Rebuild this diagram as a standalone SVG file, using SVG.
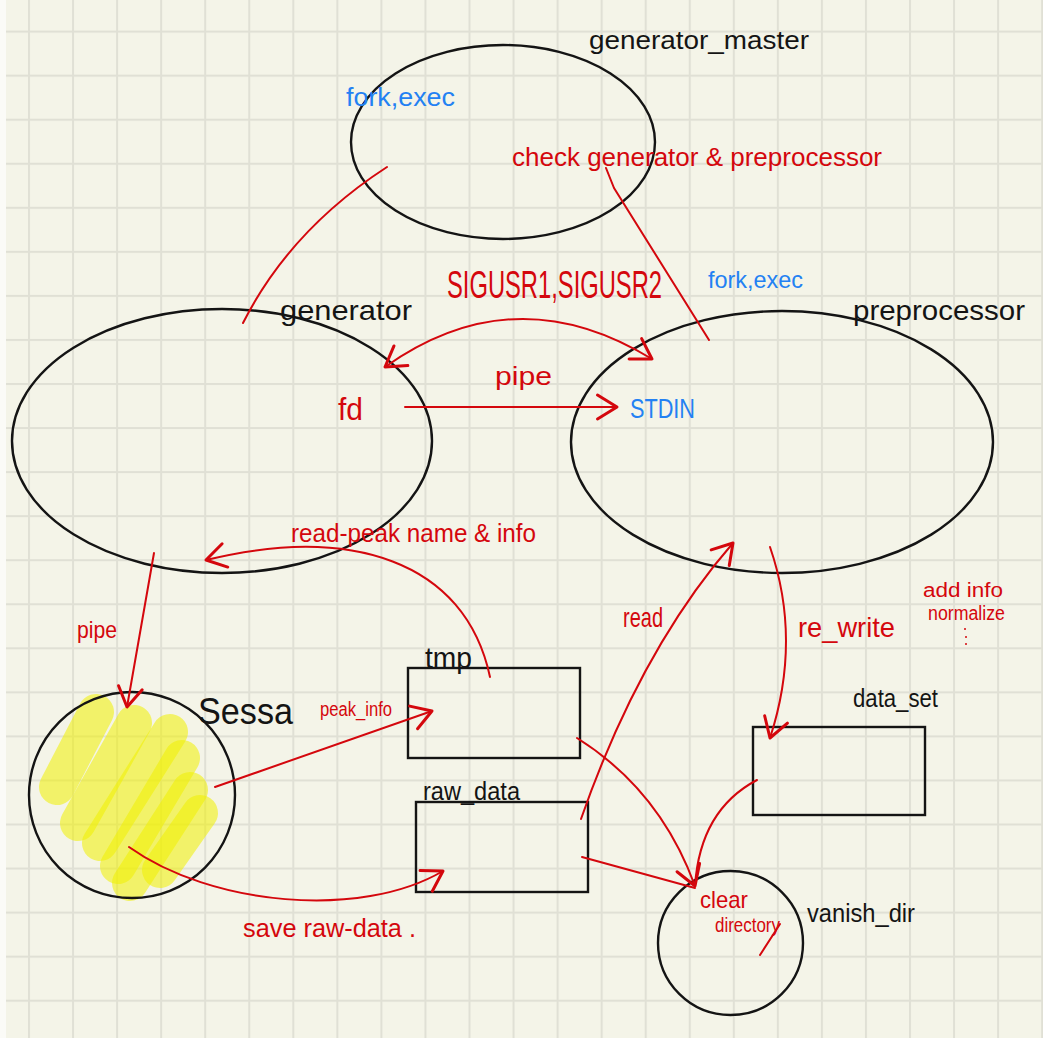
<svg xmlns="http://www.w3.org/2000/svg" width="1043" height="1038" viewBox="0 0 1043 1038">
  <style>
    .shape { fill: none; stroke: #141414; stroke-width: 2.4; }
    .wire { fill: none; stroke: #d4070d; stroke-width: 2; stroke-linecap: round; stroke-linejoin: round; }
    .arrow { marker-end: url(#head); }
    .t { font-family: "Liberation Sans", "DejaVu Sans", sans-serif; }
    .bk { fill: #141414; }
    .rd { fill: #d4070d; }
    .bl { fill: #2381f3; }
    .hl { fill: none; stroke: #f0f000; stroke-opacity: 0.55; stroke-width: 36; stroke-linecap: round; }
  </style>
  <defs>
    <pattern id="grid" patternUnits="userSpaceOnUse" x="28" y="30.6" width="44.05" height="44.05">
      <rect x="0" y="0" width="44.05" height="44.05" fill="#f4f4e8"/>
      <rect x="0" y="0" width="2" height="44.05" fill="#e0e0d5"/>
      <rect x="0" y="0" width="44.05" height="2" fill="#e0e0d5"/>
    </pattern>
    <marker id="head" markerUnits="userSpaceOnUse" markerWidth="30" markerHeight="30" viewBox="-16 -10 20 20" refX="0" refY="0" orient="auto-start-reverse">
      <path d="M-13,-8 L0,0 L-13,8" fill="none" stroke="#d4070d" stroke-width="2" stroke-linecap="round" stroke-linejoin="round"/>
    </marker>
  </defs>

  <!-- paper -->
  <rect x="0" y="0" width="1043" height="1038" fill="url(#grid)"/>
  <rect x="0" y="0" width="6" height="1038" fill="#fbfbf7"/>

  <!-- generator_master -->
  <g id="generator_master">
    <ellipse class="shape" cx="503" cy="142" rx="152" ry="97"/>
    <text class="t bk" x="589" y="49" font-size="26" textLength="220" lengthAdjust="spacingAndGlyphs">generator_master</text>
    <text class="t bl" x="346" y="106" font-size="26" textLength="109" lengthAdjust="spacingAndGlyphs">fork,exec</text>
    <text class="t rd" x="512" y="166" font-size="26" textLength="370" lengthAdjust="spacingAndGlyphs">check  generator &amp;  preprocessor</text>
  </g>

  <!-- generator -->
  <g id="generator">
    <ellipse class="shape" cx="222" cy="441" rx="210" ry="132"/>
    <text class="t bk" x="280" y="320" font-size="28" textLength="132" lengthAdjust="spacingAndGlyphs">generator</text>
    <text class="t rd" x="338" y="420" font-size="32" textLength="25" lengthAdjust="spacingAndGlyphs">fd</text>
  </g>

  <!-- preprocessor -->
  <g id="preprocessor">
    <ellipse class="shape" cx="782" cy="442" rx="211" ry="131"/>
    <text class="t bk" x="853" y="320" font-size="28" textLength="172" lengthAdjust="spacingAndGlyphs">preprocessor</text>
    <text class="t bl" x="708" y="288" font-size="24" textLength="95" lengthAdjust="spacingAndGlyphs">fork,exec</text>
    <text class="t bl" x="630" y="418" font-size="27" textLength="65" lengthAdjust="spacingAndGlyphs">STDIN</text>
  </g>

  <!-- sessa -->
  <g id="sessa">
    <g id="sessa-highlight">
      <line class="hl" x1="96" y1="712" x2="57" y2="787"/>
      <line class="hl" x1="134" y1="723" x2="78" y2="823"/>
      <line class="hl" x1="170" y1="732" x2="100" y2="843"/>
      <line class="hl" x1="182" y1="758" x2="118" y2="866"/>
      <line class="hl" x1="190" y1="790" x2="130" y2="883"/>
      <line class="hl" x1="200" y1="813" x2="160" y2="870"/>
    </g>
    <ellipse class="shape" cx="132" cy="795" rx="103" ry="103"/>
    <text class="t bk" x="198" y="724" font-size="36" textLength="95" lengthAdjust="spacingAndGlyphs">Sessa</text>
  </g>

  <!-- tmp -->
  <g id="tmp">
    <rect class="shape" x="408" y="668" width="172" height="90"/>
    <text class="t bk" x="425" y="668" font-size="30" textLength="47" lengthAdjust="spacingAndGlyphs">tmp</text>
  </g>

  <!-- raw_data -->
  <g id="raw_data">
    <rect class="shape" x="416" y="802" width="172" height="90"/>
    <text class="t bk" x="423" y="800" font-size="26" textLength="97" lengthAdjust="spacingAndGlyphs">raw_data</text>
  </g>

  <!-- data_set -->
  <g id="data_set">
    <rect class="shape" x="753" y="727" width="172" height="88"/>
    <text class="t bk" x="853" y="707" font-size="26" textLength="85" lengthAdjust="spacingAndGlyphs">data_set</text>
  </g>

  <!-- vanish_dir -->
  <g id="vanish_dir">
    <ellipse class="shape" cx="730.5" cy="943" rx="72.5" ry="72"/>
    <text class="t bk" x="807" y="922" font-size="26" textLength="108" lengthAdjust="spacingAndGlyphs">vanish_dir</text>
    <text class="t rd" x="700" y="908" font-size="24" textLength="48" lengthAdjust="spacingAndGlyphs">clear</text>
    <text class="t rd" x="715" y="932" font-size="20" textLength="65" lengthAdjust="spacingAndGlyphs">directory</text>
    <path class="wire" d="M780,924 L760,955"/>
  </g>

  <!-- connectors and their labels -->
  <g id="connectors">
    <!-- generator -> generator_master : fork,exec -->
    <path class="wire" d="M243,323 Q290,230 387,167"/>
    <!-- preprocessor -> generator_master : check -->
    <path class="wire" d="M709,340 L614,188 L606,168"/>
    <!-- SIGUSR1 / SIGUSR2 between generator and preprocessor -->
    <path class="wire arrow" d="M385,367 Q515,275 652,359" marker-start="url(#head)"/>
    <text class="t rd" transform="translate(447,298) scale(0.625,1)" x="0" y="0" font-size="38">SIGUSR1,SIGUSR2</text>
    <!-- fd -> STDIN pipe -->
    <path class="wire arrow" d="M405,407 L617,407"/>
    <text class="t rd" x="495" y="385" font-size="26" textLength="57" lengthAdjust="spacingAndGlyphs">pipe</text>
    <!-- tmp -> generator : read peak -->
    <path class="wire arrow" d="M490,677 C465,560 350,525 206,560"/>
    <text class="t rd" x="291" y="542" font-size="26" textLength="245" lengthAdjust="spacingAndGlyphs">read-peak  name &amp; info</text>
    <!-- generator -> sessa pipe -->
    <path class="wire arrow" d="M154,553 L127,707"/>
    <text class="t rd" x="77" y="638" font-size="24" textLength="40" lengthAdjust="spacingAndGlyphs">pipe</text>
    <!-- sessa -> tmp : peak_info -->
    <path class="wire arrow" d="M215,787 L432,711"/>
    <text class="t rd" x="320" y="716" font-size="20" textLength="72" lengthAdjust="spacingAndGlyphs">peak_info</text>
    <!-- sessa -> raw_data : save -->
    <path class="wire arrow" d="M129,847 C210,905 360,920 443,871"/>
    <text class="t rd" x="243" y="937" font-size="26" textLength="173" lengthAdjust="spacingAndGlyphs">save  raw-data .</text>
    <!-- raw_data -> preprocessor : read -->
    <path class="wire arrow" d="M581,819 Q640,650 733,543"/>
    <text class="t rd" x="623" y="627" font-size="28" textLength="40" lengthAdjust="spacingAndGlyphs">read</text>
    <!-- preprocessor -> data_set : re_write -->
    <path class="wire arrow" d="M770,547 Q802,640 770,738"/>
    <text class="t rd" x="798" y="637" font-size="28" textLength="97" lengthAdjust="spacingAndGlyphs">re_write</text>
    <text class="t rd" x="923" y="597" font-size="20" textLength="80" lengthAdjust="spacingAndGlyphs">add  info</text>
    <text class="t rd" x="928" y="620" font-size="20" textLength="77" lengthAdjust="spacingAndGlyphs">normalize</text>
    <circle cx="965" cy="629" r="1" fill="#d4070d"/>
    <circle cx="966" cy="637" r="1" fill="#d4070d"/>
    <circle cx="966" cy="644" r="1" fill="#d4070d"/>
    <!-- tmp, raw_data, data_set -> vanish_dir -->
    <path class="wire arrow" d="M577,738 Q660,790 695,886"/>
    <path class="wire" d="M582,857 L695,888"/>
    <path class="wire" d="M757,780 Q700,810 695,886"/>
  </g>
</svg>
